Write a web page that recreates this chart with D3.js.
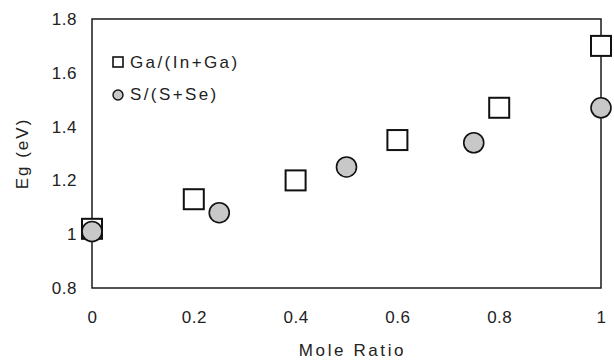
<!DOCTYPE html>
<html>
<head>
<meta charset="utf-8">
<script src="https://cdn.jsdelivr.net/npm/d3@7"></script>
<style>
  body { margin: 0; background: #fff; }
  text { font-family: 'Liberation Sans', Arial, sans-serif; fill: #222; }
</style>
</head>
<body>
<script>
// data
const gaX = [0, 0.2, 0.4, 0.6, 0.8, 1.0];
const gaEg = [1.02, 1.13, 1.20, 1.35, 1.47, 1.70];
const sX = [0, 0.25, 0.5, 0.75, 1.0];
const sEg = [1.01, 1.08, 1.25, 1.34, 1.47];
const xTicks = [0, 0.2, 0.4, 0.6, 0.8, 1];
const yTicks = [0.8, 1, 1.2, 1.4, 1.6, 1.8];
const seriesNames = ['Ga/(In+Ga)', 'S/(S+Se)'];

const width = 614;
const height = 362;
const margin = { top: 19, right: 13, bottom: 74, left: 92 };

const svg = d3.select('body')
  .append('svg')
  .attr('width', width)
  .attr('height', height);

const x = d3.scaleLinear()
  .domain([0, 1])
  .range([margin.left, width - margin.right]);

const y = d3.scaleLinear()
  .domain([0.8, 1.8])
  .range([height - margin.bottom, margin.top]);

const fmt = d => d === 0 || d === 1 ? String(d) : d3.format('.1f')(d);

// axes, labels only
svg.append('g')
  .attr('transform', `translate(0,${ height - margin.bottom })`)
  .call(d3.axisBottom(x).tickValues(xTicks).tickSize(0).tickPadding(23).tickFormat(fmt))
  .call(g => g.select('.domain').remove())
  .selectAll('text')
  .style('font-size', '17px')
  .style('letter-spacing', '0.5px')
  .attr('fill', '#222');

svg.append('g')
  .attr('transform', `translate(${ margin.left },0)`)
  .call(d3.axisLeft(y).tickValues(yTicks).tickSize(0).tickPadding(15).tickFormat(fmt))
  .call(g => g.select('.domain').remove())
  .selectAll('text')
  .style('font-size', '17px')
  .style('letter-spacing', '0.5px')
  .attr('fill', '#222');

// frame
svg.append('rect')
  .attr('x', x(0))
  .attr('y', y(1.8))
  .attr('width', x(1) - x(0))
  .attr('height', y(0.8) - y(1.8))
  .attr('fill', 'none')
  .attr('stroke', '#1a1a1a')
  .attr('stroke-width', 1.5);

// axis titles
svg.append('text')
  .attr('x', (x(0) + x(1)) / 2 + 6)
  .attr('y', 356)
  .attr('text-anchor', 'middle')
  .style('font-size', '17px')
  .style('letter-spacing', '2.6px')
  .text('Mole Ratio');

svg.append('text')
  .attr('transform', `translate(28,${ (y(0.8) + y(1.8)) / 2 }) rotate(-90)`)
  .attr('text-anchor', 'middle')
  .style('font-size', '17px')
  .style('letter-spacing', '2px')
  .text('Eg (eV)');

// squares first, circles on top
const sq = 20;
svg.append('g')
  .selectAll('rect')
  .data(gaX.map((d, i) => ({ x: d, y: gaEg[i] })))
  .join('rect')
  .attr('x', d => x(d.x) - sq / 2)
  .attr('y', d => y(d.y) - sq / 2)
  .attr('width', sq)
  .attr('height', sq)
  .attr('fill', '#fff')
  .attr('stroke', '#111')
  .attr('stroke-width', 2);

svg.append('g')
  .selectAll('circle')
  .data(sX.map((d, i) => ({ x: d, y: sEg[i] })))
  .join('circle')
  .attr('cx', d => x(d.x))
  .attr('cy', d => y(d.y))
  .attr('r', 10)
  .attr('fill', '#c8c8c8')
  .attr('stroke', '#111')
  .attr('stroke-width', 1.6);

// legend
const legend = svg.append('g');
legend.append('rect')
  .attr('x', 113).attr('y', 57)
  .attr('width', 10).attr('height', 10)
  .attr('fill', '#fff').attr('stroke', '#111').attr('stroke-width', 1.6);
legend.append('circle')
  .attr('cx', 118).attr('cy', 95).attr('r', 5)
  .attr('fill', '#c8c8c8').attr('stroke', '#111').attr('stroke-width', 1.4);
legend.selectAll('text')
  .data(seriesNames)
  .join('text')
  .attr('x', 130)
  .attr('y', (d, i) => 68 + i * 32)
  .style('font-size', '17px')
  .style('letter-spacing', '2.4px')
  .text(d => d);
</script>
</body>
</html>
